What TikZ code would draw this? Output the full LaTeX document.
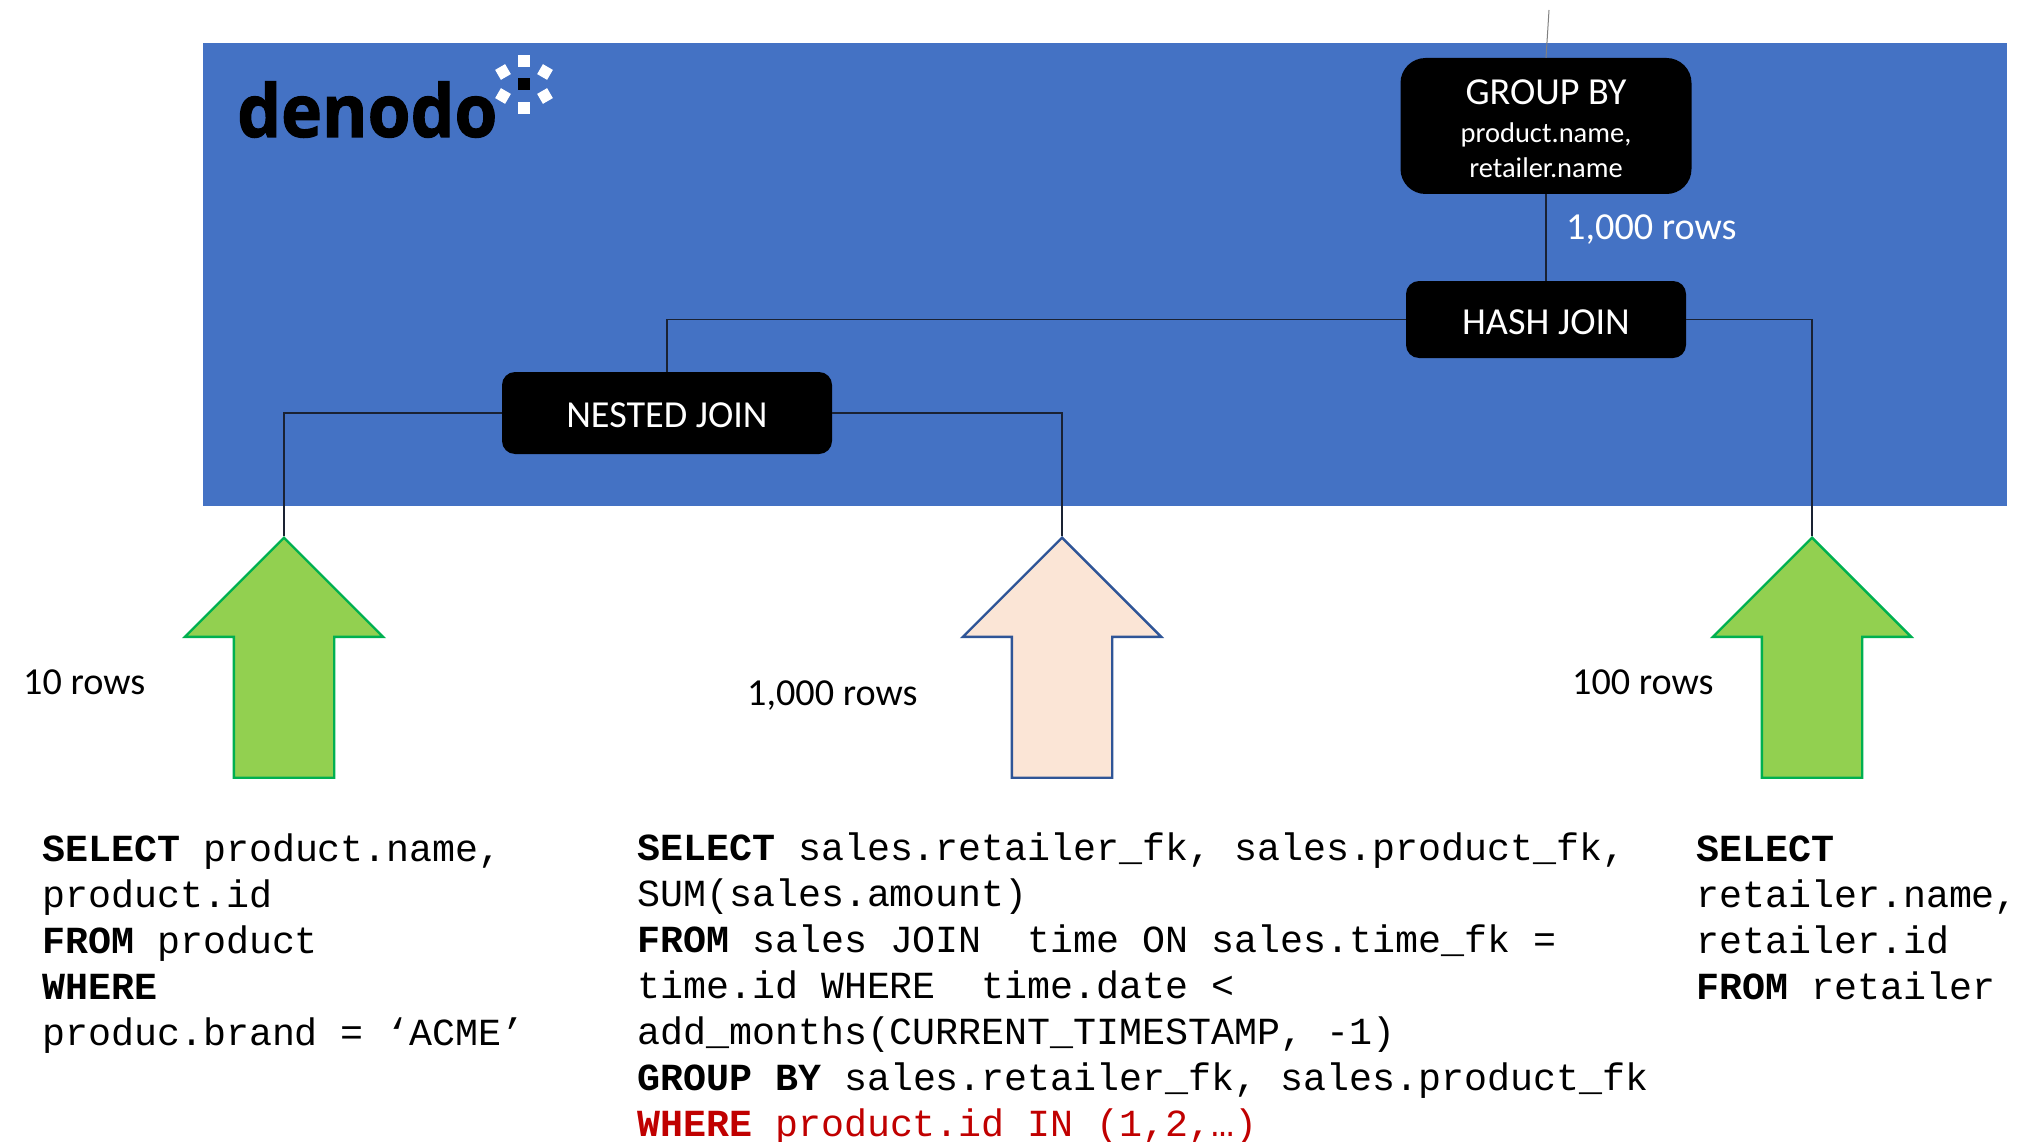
\documentclass[tikz,border=0pt]{standalone}
\usepackage{fontspec}
\setmainfont{Carlito}
\setmonofont{Liberation Mono}
\newfontfamily\logofont[FakeStretch=0.95,BoldFeatures={FakeBold=1.5}]{Open Sans}
\usetikzlibrary{shapes.arrows}
\definecolor{panelblue}{HTML}{4472C4}
\definecolor{gfill}{HTML}{92D050}
\definecolor{gline}{HTML}{00B050}
\definecolor{pfill}{HTML}{FBE5D6}
\definecolor{pline}{HTML}{2F5597}
\definecolor{redcode}{HTML}{C00000}
\definecolor{conn}{HTML}{1A2233}
\tikzset{
  opbox/.style={fill=black,text=white,align=center,inner sep=0pt,font=\fontsize{38.2}{36}\selectfont},
  conline/.style={draw=conn,line width=1.3pt},
  uparrow/.style={shape=single arrow,shape border rotate=90,anchor=tip,minimum height=240pt,minimum width=196pt,
    single arrow head extend=49pt,single arrow tip angle=90,inner sep=49pt,line width=2.4pt},
  garrow/.style={uparrow,fill=gfill,draw=gline},
  parrow/.style={uparrow,fill=pfill,draw=pline},
  rowlab/.style={anchor=base west,inner sep=0pt,font=\fontsize{38.2}{40}\selectfont},
  code/.style={anchor=north west,inner sep=0pt,align=left,font=\ttfamily\fontsize{38.3}{46}\selectfont},
  logosq/.style={fill=white,minimum size=11.5pt,inner sep=0pt}
}
\begin{document}
\begin{tikzpicture}[x=1pt,y=-1pt]
\useasboundingbox (0,0) rectangle (2044,1142);
\fill[panelblue] (203,43) rectangle (2007,506);

% logo
\node[anchor=base west,inner sep=0pt,font=\logofont\bfseries\fontsize{73}{80}\selectfont] (logo) at (237,137) {denodo};
\node[logosq] (s1) at (524,61) {};
\node[logosq] (s2) at (524,108) {};
\node[logosq,fill=black] (s3) at (524,84) {};
\node[logosq,rotate=30] (s4) at (503,72) {};
\node[logosq,rotate=-30] (s5) at (545,72) {};
\node[logosq,rotate=-30] (s6) at (503,96) {};
\node[logosq,rotate=30] (s7) at (545,96) {};

% operators
\coordinate (topend) at (1549,10);
\node[opbox,minimum width=291pt,minimum height=136pt,rounded corners=25pt,font=\fontsize{28.5}{35}\selectfont] (group) at (1546,126)
  {{\fontsize{38.2}{35}\selectfont\rule{0pt}{30pt}GROUP BY}\\[2.5pt]product.name,\\retailer.name};
\node[opbox,minimum width=280pt,minimum height=77pt,rounded corners=13pt] (hash) at (1546,319.5) {\rule{0pt}{30pt}HASH JOIN};
\node[opbox,minimum width=330pt,minimum height=82pt,rounded corners=13pt] (nested) at (667,413) {\rule{0pt}{30pt}NESTED JOIN};

% arrows
\node[garrow] (a1) at (284,536) {};
\node[parrow] (a2) at (1062,536) {};
\node[garrow] (a3) at (1812,536) {};

% connectors
\draw[conline] (hash.north) -- (group.south);
\draw[draw=gray,line width=1pt] (group.north) -- (topend);
\draw[conline] (hash.west) -| (nested.north);
\draw[conline] (hash.east) -| (a3.tip);
\draw[conline] (nested.west) -| (a1.tip);
\draw[conline] (nested.east) -| (a2.tip);

% labels
\node[rowlab,text=white] (l0) at (1566,239) {1,000 rows};
\node[rowlab] (l1) at (23,694) {10 rows};
\node[rowlab] (l2) at (747,705) {1,000 rows};
\node[rowlab] (l3) at (1572,694) {100 rows};

% code
\node[code] (c1) at (42,833.3) {\textbf{SELECT} product.name,\\product.id\\\textbf{FROM} product\\\textbf{WHERE}\\produc.brand = ‘ACME’};
\node[code] (c2) at (637,832.2) {\textbf{SELECT} sales.retailer\_fk, sales.product\_fk,\\SUM(sales.amount)\\\textbf{FROM} sales JOIN\ \ time ON sales.time\_fk =\\time.id WHERE\ \ time.date <\\add\_months(CURRENT\_TIMESTAMP, -1)\\\textbf{GROUP BY} sales.retailer\_fk, sales.product\_fk\\\textcolor{redcode}{\textbf{WHERE} product.id IN (1,2,…)}};
\node[code] (c3) at (1696,835.5) {\textbf{SELECT}\\retailer.name,\\retailer.id\\\textbf{FROM} retailer};
\end{tikzpicture}
\end{document}
